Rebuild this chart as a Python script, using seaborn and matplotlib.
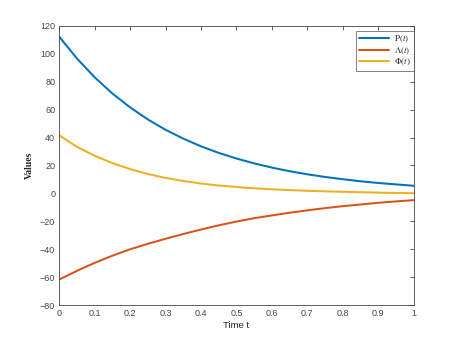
import numpy as np
import pandas as pd
import matplotlib
matplotlib.use('Agg')
import matplotlib.pyplot as plt
import seaborn as sns

# values, t = 0, 0.05, ..., 1
t = [0.00, 0.05, 0.10, 0.15, 0.20, 0.25, 0.30, 0.35, 0.40, 0.45, 0.50,
     0.55, 0.60, 0.65, 0.70, 0.75, 0.80, 0.85, 0.90, 0.95, 1.00]
p_vals = [112.0, 96.4, 83.0, 71.4, 61.5, 52.9, 45.5, 39.2, 33.7, 29.0, 25.0,
          21.5, 18.5, 15.9, 13.7, 11.8, 10.2, 8.7, 7.5, 6.5, 5.5]
lam_vals = [-61.5, -55.3, -49.6, -44.5, -39.9, -36.0, -32.4, -29.0, -25.8, -22.8, -20.1,
            -17.7, -15.7, -13.8, -12.1, -10.5, -9.1, -7.9, -6.7, -5.7, -4.8]
phi_vals = [41.5, 33.3, 26.9, 21.7, 17.4, 13.9, 11.1, 8.9, 7.1, 5.7, 4.6,
            3.7, 3.0, 2.4, 1.9, 1.5, 1.2, 0.9, 0.6, 0.35, 0.2]

labels = [r'$\mathrm{P}(t)$', r'$\Lambda(t)$', r'$\Phi(t)$']
colors = ['#0072BD', '#D95319', '#EDB120']

df = pd.concat([
    pd.DataFrame({'t': t, 'value': p_vals, 'series': labels[0]}),
    pd.DataFrame({'t': t, 'value': lam_vals, 'series': labels[1]}),
    pd.DataFrame({'t': t, 'value': phi_vals, 'series': labels[2]}),
])

sns.set_style('white')
plt.rcParams['font.family'] = ['Liberation Sans', 'DejaVu Sans']
plt.rcParams['mathtext.fontset'] = 'stix'

fig = plt.figure(figsize=(4.57, 3.43), dpi=100)
ax = fig.add_axes([0.13, 0.11, 0.775, 0.815])

sns.lineplot(data=df, x='t', y='value', hue='series', palette=colors,
             linewidth=1.45, ax=ax)

ax.set_xlim(0, 1)
ax.set_ylim(-80, 120)
ax.set_xticks(np.arange(0, 1.01, 0.1))
ax.set_xticklabels(['0', '0.1', '0.2', '0.3', '0.4', '0.5', '0.6', '0.7', '0.8', '0.9', '1'])
ax.set_yticks(np.arange(-80, 121, 20))

axcol = '#454545'
for s in ax.spines.values():
    s.set_visible(True)
    s.set_color(axcol)
    s.set_linewidth(0.6)
ax.tick_params(direction='in', length=3, width=0.6, colors=axcol,
               labelsize=6.5, top=True, right=True, pad=3)

ax.set_xlabel('Time t', fontsize=6.8, color='#262626', labelpad=2)
ax.set_ylabel('Values', fontsize=7, color='#262626', family='Liberation Serif',
              fontweight='bold', labelpad=4)

leg = ax.legend(loc='upper right', bbox_to_anchor=(1.0, 0.98), fontsize=6.5,
                handlelength=3.4, handletextpad=0.5, borderpad=0.3,
                labelspacing=0.05, borderaxespad=0.0,
                fancybox=False, frameon=True, title=None)
leg.get_frame().set_edgecolor('#262626')
leg.get_frame().set_linewidth(0.5)

fig.savefig('out.png', dpi=100)
